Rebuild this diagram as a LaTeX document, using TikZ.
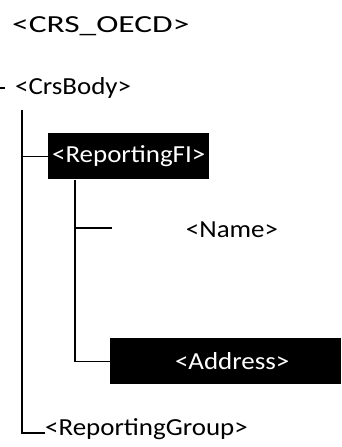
\documentclass[tikz,border=0pt]{standalone}
\usepackage{fontspec}
\setmainfont[FakeStretch=1.1]{Carlito}
\usepackage{xcolor}
\usepackage{tikz}
\usetikzlibrary{calc}

\begin{document}
\begin{tikzpicture}[x=1pt,y=-1pt,
		tag/.style={inner sep=0pt,font=\fontsize{24.5}{28}\selectfont},
		blackbox/.style={tag,fill=black,text=white,minimum height=46pt},
		branch/.style={line width=1.1pt}]
		\useasboundingbox (0,0) rectangle (341,447);
		\node[tag,anchor=base west] (crs) at (12,32) {\scalebox{1.24}[1]{<CRS\_OECD>}};
		\node[tag,anchor=base west] (body) at (15,94) {<CrsBody>};
		\node[blackbox,minimum width=161pt,anchor=north west] (fi) at (48,133) {<ReportingFI>};
		\node[tag] (name) at (232,230) {<Name>};
		\node[blackbox,minimum width=231pt,anchor=north west] (addr) at (110,338) {\hspace*{13pt}<Address>};
		\node[tag,anchor=base west] (grp) at (45,435) {<ReportingGroup>};
		\coordinate (stub) at (0,88);
		\coordinate (t1) at (22,110);
		\coordinate (t2) at (75,180);
		\coordinate (namestub) at (112,228);
		\coordinate (grpend) at (45,433);
		\draw[branch] (stub) -- ++(5,0);
		\draw[branch] (t1) |- (grpend);
		\draw[branch] (t1 |- fi.west) -- (fi.west);
		\draw[branch] (t2) |- (addr.west);
		\draw[branch] (t2 |- namestub) -- (namestub);
	\end{tikzpicture}
\end{document}
